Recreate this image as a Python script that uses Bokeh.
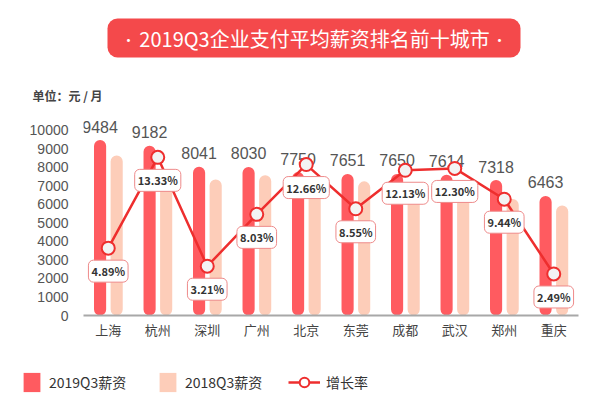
from bokeh.plotting import figure
from bokeh.models import (FactorRange, Range1d, FixedTicker, ColumnDataSource,
                          Label, BoxAnnotation, Legend, LegendItem)
from bokeh.transform import dodge
from bokeh.layouts import column, row
from bokeh.embed import file_html
from bokeh.resources import INLINE
from bokeh.core.properties import value

# ---------------- data ----------------
cities = ["上海", "杭州", "深圳", "广州", "北京", "东莞", "成都", "武汉", "郑州", "重庆"]
salary_2019 = [9484, 9182, 8041, 8030, 7750, 7651, 7650, 7614, 7318, 6463]
salary_2018 = [8650, 7700, 7350, 7580, 7100, 7250, 7000, 6850, 6300, 5950]
growth = [4.89, 13.33, 3.21, 8.03, 12.66, 8.55, 12.13, 12.30, 9.44, 2.49]
y_ticks = [0, 1000, 2000, 3000, 4000, 5000, 6000, 7000, 8000, 9000, 10000]
title_text = "2019Q3企业支付平均薪资排名前十城市"
unit_text = "单位：元 / 月"
legend_labels = ["2019Q3薪资", "2018Q3薪资", "增长率"]

# ---------------- style ----------------
C19 = "#FF5B60"
C18 = "#FDCDB9"
CLINE = "#EE2E2E"
CJK = "Noto Sans CJK SC"
NUM = "Liberation Sans"
W = 614
H_HEAD = 105
H_MAIN = 250
H_LEG = 43
BOTTOM = 40
LEFT_W = 83


def bare(fig):
    fig.outline_line_color = None
    fig.xgrid.visible = False
    fig.ygrid.visible = False
    return fig


# ---------------- header ----------------
hd = bare(figure(width=W, height=H_HEAD, output_backend="svg", toolbar_location=None,
                 min_border=0, x_axis_type=None, y_axis_type=None,
                 x_range=Range1d(0, W), y_range=Range1d(H_HEAD, 0)))
hd.add_layout(BoxAnnotation(left=107, right=520, top=18, bottom=57,
                            fill_color="#F4494B", fill_alpha=1.0, line_color=None,
                            border_radius=10))
hd.add_layout(Label(x=314, y=38, text=title_text,
                    text_align="center", text_baseline="middle", text_color="white",
                    text_font=CJK, text_font_size="20px"))
for dot_x in (128, 499):
    hd.add_layout(Label(x=dot_x, y=38, text="•", text_align="center",
                        text_baseline="middle", text_color="white",
                        text_font=CJK, text_font_size="14px"))
hd.add_layout(Label(x=32, y=95, text=unit_text,
                    text_align="left", text_baseline="middle", text_color="#444444",
                    text_font=CJK, text_font_size="12px", text_font_style="bold"))

# ---------------- main chart ----------------
src = ColumnDataSource(dict(
    city=cities,
    s19=salary_2019,
    s18=salary_2018,
    s19_text=[str(v) for v in salary_2019],
    g=growth,
    g_text=["%.2f%%" % v for v in growth],
))

y_range = Range1d(0, 11351)

p = bare(figure(width=W - LEFT_W, height=H_MAIN,
                x_range=FactorRange(factors=cities, range_padding=0),
                y_range=y_range, y_axis_type=None,
                output_backend="svg", toolbar_location=None,
                min_border_left=0, min_border_right=36,
                min_border_top=0, min_border_bottom=BOTTOM))
p.extra_y_ranges = {"rate": Range1d(-1.37, 18.15)}

p.xaxis.axis_line_color = "#A8A8A8"
p.xaxis.axis_line_width = 2
p.xaxis.major_tick_line_color = None
p.xaxis.major_tick_out = 0
p.xaxis.major_tick_in = 0
p.xaxis.major_label_standoff = 4
p.xaxis.major_label_text_font = CJK
p.xaxis.major_label_text_font_size = "13px"
p.xaxis.major_label_text_color = "#444444"

p.vbar(x=dodge("city", -0.165, range=p.x_range), top="s19", bottom=0, width=0.245,
       fill_color=C19, line_color=None, border_radius=6, source=src)
p.vbar(x=dodge("city", 0.17, range=p.x_range), top="s18", bottom=0, width=0.245,
       fill_color=C18, line_color=None, border_radius=6, source=src)

p.text(x=dodge("city", -0.165, range=p.x_range), y="s19", text="s19_text", source=src,
       y_offset=-13.5, text_align="center", text_baseline="middle",
       text_font=value(NUM), text_font_size="16px", text_color="#555555")

p.line(x="city", y="g", y_range_name="rate", source=src,
       line_color=CLINE, line_width=2.5)
p.scatter(x="city", y="g", y_range_name="rate", source=src, size=13,
          fill_color="#F3F3F3", line_color=CLINE, line_width=2)
p.text(x="city", y="g", text="g_text", y_range_name="rate", source=src,
       y_offset=23, text_align="center", text_baseline="middle",
       text_font=value(CJK), text_font_size="11px", text_font_style="bold",
       text_color="#333333", background_fill_color="white",
       border_line_color="#EE8A8A", border_line_width=1, padding=3, border_radius=5)

# y axis strip (shares the value range)
ya = bare(figure(width=LEFT_W, height=H_MAIN, y_range=y_range,
                 x_range=Range1d(0, 1), x_axis_type=None,
                 output_backend="svg", toolbar_location=None,
                 min_border_left=78, min_border_right=0,
                 min_border_top=0, min_border_bottom=BOTTOM))
ya.yaxis.ticker = FixedTicker(ticks=y_ticks)
ya.yaxis.axis_line_color = None
ya.yaxis.major_tick_line_color = None
ya.yaxis.minor_tick_line_color = None
ya.yaxis.major_tick_out = 0
ya.yaxis.major_tick_in = 0
ya.yaxis.major_label_standoff = 10
ya.yaxis.major_label_text_font = NUM
ya.yaxis.major_label_text_font_size = "14px"
ya.yaxis.major_label_text_color = "#555555"

# ---------------- legend strip ----------------
lf = bare(figure(width=W, height=H_LEG, output_backend="svg", toolbar_location=None,
                 min_border=0, x_axis_type=None, y_axis_type=None,
                 x_range=Range1d(0, 1), y_range=Range1d(0, 1)))

r1 = lf.quad(left=[5], right=[6], top=[5], bottom=[6], fill_color=C19, line_color=None)
r2 = lf.quad(left=[5], right=[6], top=[5], bottom=[6], fill_color=C18, line_color=None)
r3 = lf.line(x=[5, 6], y=[5, 6], line_color=CLINE, line_width=2.5)
r4 = lf.scatter(x=[5], y=[5], size=13, fill_color="white", line_color=CLINE, line_width=2)


def make_legend(label, rends, x, gw, standoff):
    return Legend(items=[LegendItem(label=label, renderers=rends)], location=(x, 4),
                  glyph_width=gw, glyph_height=24, label_standoff=standoff,
                  padding=0, margin=0, background_fill_alpha=0, border_line_color=None,
                  label_text_font=CJK, label_text_font_size="14px",
                  label_text_color="#333333", label_height=24)


lf.add_layout(make_legend(legend_labels[0], [r1], 21, 21, 7))
lf.add_layout(make_legend(legend_labels[1], [r2], 157, 21, 7))
lf.add_layout(make_legend(legend_labels[2], [r3, r4], 288, 32, 6))

layout = column(hd, row(ya, p, spacing=0), lf, spacing=0)
open("out.html", "w").write(file_html(layout, INLINE))
